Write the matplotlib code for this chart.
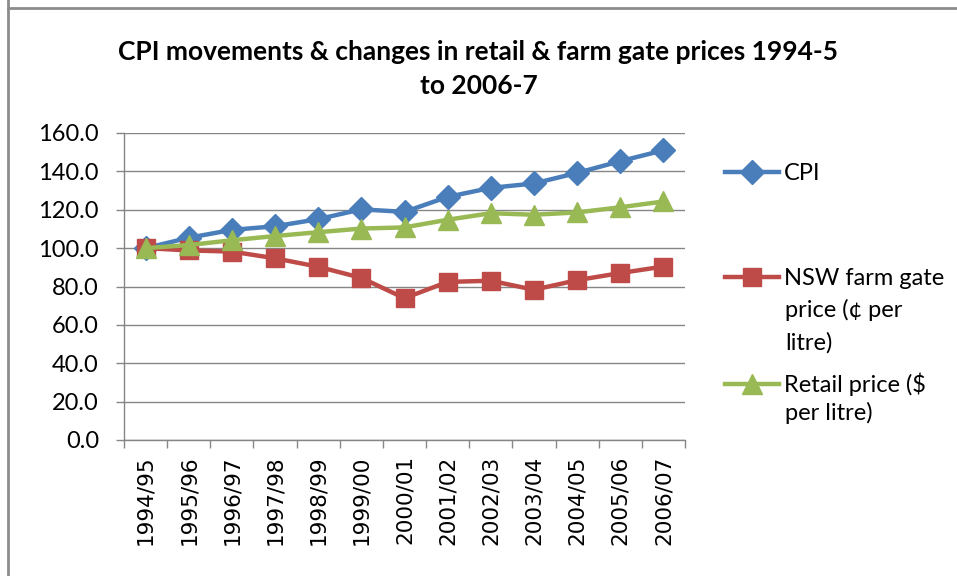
import matplotlib.pyplot as plt
from matplotlib.lines import Line2D

# data
years = ["1994/95", "1995/96", "1996/97", "1997/98", "1998/99", "1999/00", "2000/01",
         "2001/02", "2002/03", "2003/04", "2004/05", "2005/06", "2006/07"]
cpi = [100.0, 105.4, 109.5, 111.4, 115.1, 120.2, 118.9, 126.7, 131.4, 133.7, 139.2, 145.3, 151.0]
farm_gate = [100.0, 98.8, 98.2, 94.7, 90.3, 84.5, 73.9, 82.4, 83.0, 78.3, 83.3, 87.0, 90.4]
retail = [100.0, 101.6, 104.1, 106.3, 108.3, 110.2, 110.8, 114.8, 118.2, 117.4, 118.6, 121.3, 124.3]

title = "CPI movements & changes in retail & farm gate prices 1994-5\nto 2006-7"
font = "Lato"
grey = "#868686"

fig = plt.figure(figsize=(9.57, 5.76), dpi=100)
ax = fig.add_axes([124 / 957, 136 / 576, 561 / 957, 307 / 576])

x = list(range(len(years)))
ax.plot(x, cpi, color="#4A7EBB", lw=3.2, marker="D", ms=12, label="CPI", zorder=3)
ax.plot(x, farm_gate, color="#BE4B48", lw=3.2, marker="s", ms=13, label="NSW farm gate", zorder=3)
ax.plot(x, retail, color="#98B954", lw=3.2, marker="^", ms=15, label="Retail price ($", zorder=3)

ax.set_xlim(-0.5, len(years) - 0.5)
ax.set_ylim(0, 160)
ax.set_yticks(range(0, 161, 20))
ax.set_yticklabels([f"{v:.1f}" for v in range(0, 161, 20)], fontfamily=font, fontsize=17)
ax.set_xticks(x)
ax.set_xticklabels(years, rotation=90, fontfamily="DejaVu Sans", fontsize=15.5)
ax.set_xticks([i - 0.5 for i in range(len(years) + 1)], minor=True)
ax.tick_params(axis="x", which="major", length=0, pad=11)
ax.tick_params(axis="x", which="minor", length=6, color=grey, width=1)
ax.tick_params(axis="y", length=6, color=grey, width=1, pad=12)
ax.grid(axis="y", color=grey, lw=1)
ax.set_axisbelow(True)
for s in ["top", "right"]:
    ax.spines[s].set_visible(False)
for s in ["left", "bottom"]:
    ax.spines[s].set_color(grey)
    ax.spines[s].set_linewidth(1)

fig.text(0.5, 1 - 69 / 576, title, ha="center", va="center", fontfamily=font,
         fontweight="bold", fontsize=19, linespacing=1.5)

leg = fig.legend(loc="upper left", bbox_to_anchor=(725 / 957, 1 - 163 / 576), frameon=False,
                 prop={"family": font, "size": 17}, handlelength=2.3, handletextpad=0.2,
                 labelspacing=3.55, borderpad=0, borderaxespad=0)

for txt, ypx in [("price (¢ per", 310), ("litre)", 343), ("per litre)", 413)]:
    fig.text(785 / 957, 1 - ypx / 576, txt, ha="left", va="center", fontfamily=font, fontsize=17)

# chart area border
fig.add_artist(Line2D([8 / 957, 8 / 957], [0, 1], color="#8c8c8c", lw=2))
fig.add_artist(Line2D([8 / 957, 1], [1 - 7.5 / 576, 1 - 7.5 / 576], color="#8c8c8c", lw=2))

fig.savefig("out.png")
plt.close(fig)
